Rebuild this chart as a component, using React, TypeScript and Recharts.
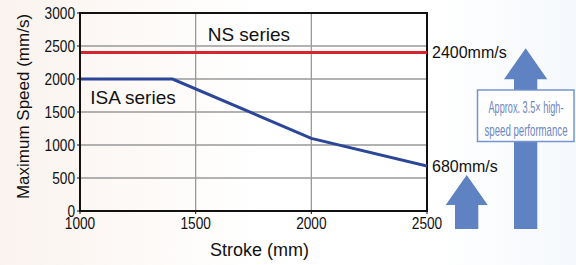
import { LineChart, Line, XAxis, YAxis, CartesianGrid, ReferenceArea, ReferenceDot } from 'recharts'

const strokeTicks = [1000, 1500, 2000, 2500]
const speedTicks = [0, 500, 1000, 1500, 2000, 2500, 3000]

const isaStroke = [1000, 1400, 2000, 2500]
const isaSpeed = [2000, 2000, 1100, 680]

const nsStroke = [1000, 2500]
const nsSpeed = [2400, 2400]

const isaData = isaStroke.map((s, i) => ({ stroke: s, speed: isaSpeed[i] }))
const nsData = nsStroke.map((s, i) => ({ stroke: s, speed: nsSpeed[i] }))

// condensed-looking digits: squeeze Liberation Sans with textLength
const DIGIT_W = 7.6

function YTick(props: any) {
  const { x, y, payload } = props
  const s = String(payload.value)
  return (
    <text x={x} y={y} textAnchor="end" dominantBaseline="central" fontSize={17} fill="#111"
      fontFamily='"Liberation Sans", Arial' textLength={s.length * DIGIT_W} lengthAdjust="spacingAndGlyphs">
      {s}
    </text>
  )
}

function XTick(props: any) {
  const { x, y, payload } = props
  const s = String(payload.value)
  return (
    <text x={x} y={y + 13} textAnchor="middle" fontSize={17} fill="#111"
      fontFamily='"Liberation Sans", Arial' textLength={s.length * DIGIT_W} lengthAdjust="spacingAndGlyphs">
      {s}
    </text>
  )
}

function YTitle(props: any) {
  const { x, y, height } = props.viewBox
  const cx = x + 3
  const cy = y + height / 2 - 5.5
  return (
    <text x={cx} y={cy} transform={`rotate(-90 ${cx} ${cy})`} textAnchor="middle" dominantBaseline="central"
      fontSize={17} fill="#111" fontFamily='"Liberation Sans", Arial'>
      Maximum Speed (mm/s)
    </text>
  )
}

function XTitle(props: any) {
  const { x, y, width } = props.viewBox
  return (
    <text x={x + width / 2 + 6} y={y + 39} textAnchor="middle" dominantBaseline="central"
      fontSize={18} fill="#111" fontFamily='"Liberation Sans", Arial'>
      Stroke (mm)
    </text>
  )
}

export default function App() {
  return (
    <div style={{
      position: 'absolute', left: 0, top: 0, width: 576, height: 265,
      background: 'linear-gradient(90deg, #faf3ee 0%, #ffffff 45%, #ffffff 75%, #f5f8fc 100%)',
      fontFamily: '"Liberation Sans", Arial',
    }}>
      <LineChart width={576} height={265} margin={{ top: 13, right: 149, bottom: 4, left: 20 }}>
        <CartesianGrid stroke="#999" strokeWidth={1.3} horizontalValues={speedTicks} verticalValues={strokeTicks} />
        <XAxis type="number" dataKey="stroke" domain={[1000, 2500]} ticks={strokeTicks} allowDataOverflow
          height={50} tickSize={3} tickMargin={2} tick={<XTick />}
          axisLine={{ stroke: '#111', strokeWidth: 2 }} tickLine={{ stroke: '#111' }} label={<XTitle />} />
        <YAxis type="number" domain={[0, 3000]} ticks={speedTicks} allowDataOverflow
          width={60} tickSize={3} tickMargin={2} tick={<YTick />}
          axisLine={{ stroke: '#111', strokeWidth: 2 }} tickLine={{ stroke: '#111' }} label={<YTitle />} />
        <ReferenceArea x1={1000} x2={2500} y1={0} y2={3000} fill="none" stroke="#111" strokeWidth={2} />
        <Line data={nsData} dataKey="speed" stroke="#d5262f" strokeWidth={3} dot={false} isAnimationActive={false} />
        <Line data={isaData} dataKey="speed" stroke="#2b4598" strokeWidth={3} dot={false} isAnimationActive={false} />
        <ReferenceDot x={1730} y={2680} r={0} fill="none" stroke="none"
          label={{ value: 'NS series', position: 'center', fontSize: 19, fill: '#111' }} />
        <ReferenceDot x={1229} y={1727} r={0} fill="none" stroke="none"
          label={{ value: 'ISA series', position: 'center', fontSize: 19, fill: '#111' }} />
        <ReferenceDot x={2500} y={2400} r={0} fill="none" stroke="none"
          label={{ value: '2400mm/s', position: 'right', offset: 5, fontSize: 16, fill: '#111' }} />
        <ReferenceDot x={2500} y={680} r={0} fill="none" stroke="none"
          label={{ value: '680mm/s', position: 'right', offset: 5, fontSize: 16, fill: '#111' }} />
      </LineChart>
      <svg width={576} height={265} style={{ position: 'absolute', left: 0, top: 0, pointerEvents: 'none' }}>
        <polygon fill="#5f82c3" points="466.7,175 487.7,205 478.3,205 478.3,229 455,229 455,205 445.7,205" />
        <polygon fill="#5f82c3" points="525.7,48.3 547.3,79.3 537.3,79.3 537.3,229 514,229 514,79.3 504,79.3" />
        <rect x={477.5} y={90} width={96.5} height={51.5} fill="#fff" stroke="#7594d0" strokeWidth={1.5} />
        <text x={526} y={107} textAnchor="middle" dominantBaseline="central" fontSize={17} fill="#6b86c6"
          fontFamily='"Liberation Sans", Arial' textLength={75} lengthAdjust="spacingAndGlyphs">
          Approx. 3.5× high-
        </text>
        <text x={526} y={130} textAnchor="middle" dominantBaseline="central" fontSize={17} fill="#6b86c6"
          fontFamily='"Liberation Sans", Arial' textLength={83} lengthAdjust="spacingAndGlyphs">
          speed performance
        </text>
      </svg>
    </div>
  )
}
